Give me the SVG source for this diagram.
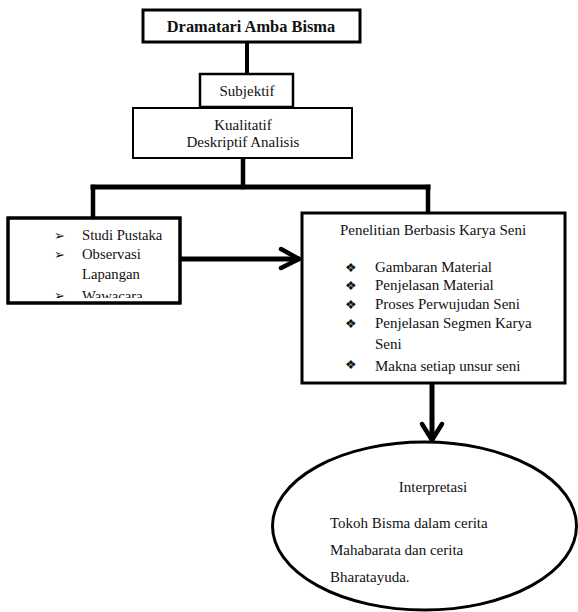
<svg xmlns="http://www.w3.org/2000/svg" width="578" height="612" viewBox="0 0 578 612">
<style>
text{font-family:"Liberation Serif","Times New Roman",Times,"DejaVu Serif",serif;font-size:15px;fill:#111}
.box{fill:#fff;stroke:#000}
.c{fill:none;stroke:#000;stroke-linecap:square}
.ah{fill:none;stroke:#000;stroke-width:4.5;stroke-linecap:round;stroke-linejoin:round}
.b{font-size:12.5px}
.l{font-size:14.7px}
</style>
<rect width="578" height="612" fill="#fff"/>
<g id="connectors">
<line class="c" x1="247" y1="42" x2="247" y2="74" stroke-width="4"/>
<line class="c" x1="243" y1="158" x2="243" y2="187" stroke-width="4.5"/>
<line class="c" x1="93" y1="187" x2="428" y2="187" stroke-width="5"/>
<line class="c" x1="93" y1="187" x2="93" y2="218" stroke-width="4.5"/>
<line class="c" x1="428" y1="187" x2="428" y2="213" stroke-width="4.5"/>
<line class="c" x1="180" y1="259" x2="297" y2="259" stroke-width="5"/>
<polyline class="ah" points="281,249 299,259 281,268"/>
<line class="c" x1="432" y1="384" x2="432" y2="438" stroke-width="5"/>
<polyline class="ah" points="422,424 432,440 442,424"/>
</g>
<g id="title">
<rect class="box" x="143" y="10" width="217" height="32" stroke-width="3"/>
<text x="251" y="32" text-anchor="middle" font-weight="bold" style="font-size:16.4px">Dramatari Amba Bisma</text>
</g>
<g id="subjektif">
<rect class="box" x="200" y="74" width="93" height="33" stroke-width="2.5"/>
<text x="247" y="96" text-anchor="middle">Subjektif</text>
</g>
<g id="kualitatif">
<rect class="box" x="133" y="108" width="219" height="50" stroke-width="2"/>
<text x="243" y="130" text-anchor="middle">Kualitatif</text>
<text x="243" y="147" text-anchor="middle">Deskriptif Analisis</text>
</g>
<g id="metode">
<rect class="box" x="8" y="218" width="172" height="85" stroke-width="3"/>
<text class="b" x="54" y="240">➢</text>
<text class="l" x="82" y="240">Studi Pustaka</text>
<text class="b" x="54" y="259">➢</text>
<text class="l" x="82" y="259">Observasi</text>
<text class="l" x="82" y="279">Lapangan</text>
<clipPath id="clipL"><rect x="8" y="218" width="172" height="80"/></clipPath>
<g clip-path="url(#clipL)">
<text class="b" x="54" y="300">➢</text>
<text class="l" x="82" y="300.5">Wawacara</text>
</g>
<rect x="8" y="218" width="172" height="85" fill="none" stroke="#000" stroke-width="3"/>
</g>
<g id="penelitian">
<rect class="box" x="302" y="213" width="263" height="170" stroke-width="3"/>
<text x="433" y="235" text-anchor="middle">Penelitian Berbasis Karya Seni</text>
<text class="b" x="345" y="272">❖</text>
<text x="375" y="272">Gambaran Material</text>
<text class="b" x="345" y="290">❖</text>
<text x="375" y="290">Penjelasan Material</text>
<text class="b" x="345" y="309">❖</text>
<text x="375" y="309">Proses Perwujudan Seni</text>
<text class="b" x="345" y="328">❖</text>
<text x="375" y="328">Penjelasan Segmen Karya</text>
<text x="375" y="349">Seni</text>
<text class="b" x="345" y="369">❖</text>
<text x="375" y="371">Makna setiap unsur seni</text>
</g>
<g id="interpretasi">
<ellipse class="box" cx="424.5" cy="526" rx="152" ry="84" stroke-width="3"/>
<text x="433" y="492" text-anchor="middle">Interpretasi</text>
<text x="330" y="528">Tokoh Bisma dalam cerita</text>
<text x="330" y="555">Mahabarata dan cerita</text>
<text x="330" y="582">Bharatayuda.</text>
</g>
</svg>
